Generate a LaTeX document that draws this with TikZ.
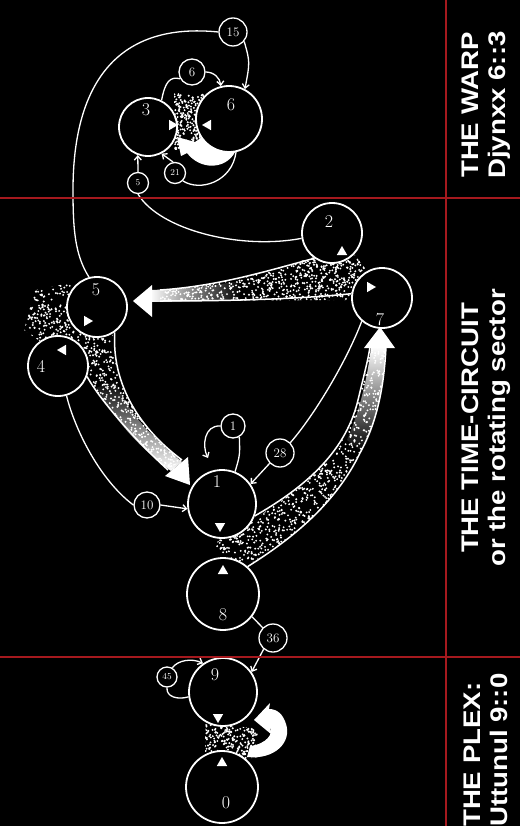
\documentclass[tikz,border=0pt]{standalone}
\usepackage{fontspec}
\newfontfamily\sectfont[FakeStretch=1.15]{Liberation Sans}
\usetikzlibrary{shapes.geometric, arrows.meta, fadings}
\definecolor{redline}{RGB}{165,25,30}
\pgfdeclarelayer{back}
\pgfdeclarelayer{band}
\pgfsetlayers{back,band,main}
% random white specks in a box: x0, y0, width, height, count
\newcommand{\speckle}[5]{%
  \foreach \k in {1,...,#5}{\fill[white] ({#1+#3*rnd},{#2+#4*rnd}) circle (1.05);}}

\begin{document}
\begin{tikzpicture}[x=1pt, y=-1pt,
  ring/.style={circle, draw=white, fill=black, line width=1.8pt, inner sep=0pt},
  tag/.style={circle, draw=white, fill=black, line width=1.3pt, inner sep=0pt, text=white, font=\fontsize{13}{13}\selectfont},
  small tag/.style={tag, font=\fontsize{9}{9}\selectfont},
  num/.style={text=white, font=\fontsize{18}{18}\selectfont, inner sep=0pt},
  tri/.style={regular polygon, regular polygon sides=3, fill=white, minimum size=12pt, inner sep=0pt},
  conn/.style={draw=white, line width=1.3pt},
  rim/.style={draw=white, line width=1.5pt},
  sect/.style={rotate=90, text=white, inner sep=0pt, font=\sectfont\bfseries\fontsize{24}{27}\selectfont},
  border/.style={draw=redline, line width=1.5pt},
  >={Straight Barb[length=4pt,width=7pt]}]

  \useasboundingbox (0,0) rectangle (520,826);
  \pgfmathsetseed{42}

  % -- Circles --
  \node[ring, minimum size=58pt] (c3) at (148,127) {};
  \node[ring, minimum size=66pt] (c6) at (229,119) {};
  \node[ring, minimum size=60pt] (c2) at (332,233) {};
  \node[ring, minimum size=60pt] (c7) at (382,298) {};
  \node[ring, minimum size=60pt] (c5) at (97,307) {};
  \node[ring, minimum size=60pt] (c4) at (58,366) {};
  \node[ring, minimum size=68pt] (c1) at (222,504) {};
  \node[ring, minimum size=72pt] (c8) at (223,594) {};
  \node[ring, minimum size=68pt] (c9) at (223,692) {};
  \node[ring, minimum size=72pt] (c0) at (222,787) {};

  % -- Circle numbers --
  \node[num] (l3) at (146,110) {3};
  \node[num] (l6) at (231,105) {6};
  \node[num] (l2) at (329,222) {2};
  \node[num] (l7) at (380,320) {7};
  \node[num] (l5) at (96,290) {5};
  \node[num] (l4) at (41,366) {4};
  \node[num] (l1) at (217,482) {1};
  \node[num] (l8) at (223,615) {8};
  \node[num] (l9) at (215,675) {9};
  \node[num] (l0) at (226,803) {0};

  % -- Direction marks --
  \node[tri, rotate=-90] (t3) at (172,125) {};
  \node[tri, rotate=90] (t6) at (208,125) {};
  \node[tri, rotate=-120] (t2) at (342,252) {};
  \node[tri, rotate=-90] (t7) at (370,287) {};
  \node[tri, rotate=-90] (t5) at (87,321) {};
  \node[tri, rotate=90] (t4) at (63,350) {};
  \node[tri, rotate=180] (t1) at (220,526) {};
  \node[tri] (t8) at (223,571) {};
  \node[tri, rotate=180] (t9) at (218,717) {};
  \node[tri] (t0) at (222,763) {};

  % -- Small tags --
  \node[tag, minimum size=28pt] (n15) at (233,32) {15};
  \node[tag, minimum size=26pt] (n6) at (192,72) {6};
  \node[small tag, minimum size=21pt] (n21) at (175,173) {21};
  \node[small tag, minimum size=21pt] (n5) at (138,183) {5};
  \node[tag, minimum size=24pt] (n1) at (233,426) {1};
  \node[tag, minimum size=28pt] (n28) at (280,453) {28};
  \node[tag, minimum size=26pt] (n10) at (147,505) {10};
  \node[tag, minimum size=28pt] (n36) at (273,638) {36};
  \node[small tag, minimum size=20pt] (n45) at (167,677) {45};

  % -- Warp connectors --
  \draw[conn] (c5.105) .. controls (75,255) and (73,230) .. (73,190) .. controls (73,80) and (120,22) .. (n15.west);
  \draw[conn, ->] (n15.-40) .. controls (250,62) .. (c6.62);
  \draw[conn] (c3.63) .. controls (165,82) and (170,76) .. (n6.-150);
  \draw[conn, ->] (n6.east) .. controls (214,72) and (220,78) .. (c6.104);
  \draw[conn] (c6.-78) .. controls (232,182) and (200,192) .. (n21.-45);
  \draw[conn, ->] (n21.100) -- (c3.-63);
  \draw[conn] (c2.190) .. controls (240,250) and (160,230) .. (n5.-90);
  \draw[conn, ->] (n5.north) -- (c3.250);

  % -- Circuit connectors --
  \draw[conn] (c1.68) .. controls (240,455) .. (n1.-60);
  \coordinate (hook) at (208,458);
  \draw[conn, ->] (n1.west) .. controls (204,425) and (202,446) .. (hook);
  \draw[conn] (c7.229) .. controls (345,365) and (312,418) .. (n28.45);
  \draw[conn, ->] (n28.-135) -- (c1.35);
  \draw[conn] (c4.-74) .. controls (75,430) and (100,480) .. (n10.west);
  \draw[conn, ->] (n10.east) -- (c1.188);
  \draw[conn] (c8.-38) -- (n36.135);
  \draw[conn, ->] (n36.-130) -- (c9.35);

  % -- Plex connectors --
  \draw[conn] (c9.188) .. controls (178,700) and (166,697) .. (n45.-90);
  \draw[conn, ->] (n45.60) .. controls (178,660) and (192,658) .. (c9.125);

  % -- Stippled flows --
  \begin{pgfonlayer}{band}
    % warp: between 3 and 6
    \begin{scope}
      \clip (174,94) rectangle (206,150);
      \speckle{174}{94}{32}{56}{260}
    \end{scope}
    \fill[white] (c6.-80) .. controls (225,170) and (200,170) .. (187,153) -- (181,156) -- (177,137) -- (195,142) -- (c6.center) -- cycle;

    % 2 and 7 into 5
    \begin{scope}
      \clip (318,245) -- (352,252) -- (374,278) -- (360,300) .. controls (300,300) and (230,301) .. (160,301) -- (160,290) .. controls (220,286) and (270,270) .. (318,256) -- cycle;
      \speckle{158}{243}{220}{60}{1300}
    \end{scope}
    \draw[rim] (c2.235) .. controls (270,270) and (220,286) .. (160,290);
    \draw[rim] (c7.172) .. controls (300,299) and (230,301) .. (160,301);
    \fill[white, path fading=east] (150,290) .. controls (185,289) and (210,286) .. (240,281) -- (240,300) .. controls (210,300) and (185,302) .. (150,302) -- cycle;
    \fill[white] (133,301) -- (152,285) -- (152,317) -- cycle;

    % 5 and 4 into 1
    \begin{scope}
      \clip (70,283) -- (35,290) -- (24,330) -- (50,348) -- (82,352) -- (86,376) .. controls (100,400) and (135,440) .. (168,470) -- (182,460) .. controls (135,425) and (112,380) .. (113,335) -- (100,325) -- cycle;
      \speckle{22}{280}{162}{192}{2400}
    \end{scope}
    \draw[rim] (c4.-20) .. controls (100,400) and (135,440) .. (168,470);
    \draw[rim] (c5.-55) .. controls (112,380) and (135,425) .. (182,460);
    \fill[white, path fading=north] (96,388) .. controls (118,425) and (145,452) .. (171,471) -- (182,462) .. controls (150,435) and (125,410) .. (116,380) -- cycle;
    \fill[white] (165,476) -- (190,485) -- (188,457) -- cycle;

    % 1 and 8 into 7
    \begin{scope}
      \clip (228,528) -- (257,517) .. controls (300,490) and (345,455) .. (358,400) .. controls (364,375) and (368,360) .. (370,345) -- (386,345) .. controls (384,385) and (378,420) .. (360,453) .. controls (335,505) and (290,540) .. (253,562) -- (232,562) -- (215,545) -- cycle;
      \speckle{212}{340}{176}{225}{2900}
    \end{scope}
    \draw[rim] (c1.-20) .. controls (300,490) and (345,455) .. (358,400) .. controls (364,375) and (368,360) .. (370,347);
    \draw[rim] (386,347) .. controls (384,385) and (378,420) .. (360,453) .. controls (335,505) and (290,540) .. (c8.48);
    \fill[white, path fading=south] (347,440) .. controls (360,410) and (368,375) .. (371,347) -- (385,347) .. controls (384,385) and (377,425) .. (362,452) -- cycle;
    \fill[white] (364,348) -- (380,327) -- (395,348) -- cycle;

    % plex: between 9 and 0
    \begin{scope}
      \clip (205,724) -- (256,728) -- (262,756) -- (230,764) -- (205,752) -- cycle;
      \speckle{204}{722}{60}{44}{320}
    \end{scope}
    \fill[white] (247,757) .. controls (275,760) and (292,742) .. (286,724) .. controls (283,714) and (277,709) .. (269,709) -- (270,703) -- (254,720) -- (271,734) -- (270,727) .. controls (274,733) and (267,744) .. (250,746) -- cycle;
  \end{pgfonlayer}

  \begin{pgfonlayer}{back}
    \fill[black] (0,0) rectangle (520,826);
  \end{pgfonlayer}

  % -- Sector borders --
  \draw[border] (446,0) -- (446,826);
  \draw[border] (0,198) -- (520,198);
  \draw[border] (0,657) -- (520,657);

  % -- Sector names --
  \node[sect, align=center] (warp) at (486,105) {THE WARP\\Djynxx 6::3};
  \node[sect, align=center] (circuit) at (486,428) {THE TIME-CIRCUIT\\or the rotating sector};
  \node[sect, align=left, anchor=west] (plex) at (486,827) {THE PLEX:\\Uttunul 9::0};

\end{tikzpicture}
\end{document}
